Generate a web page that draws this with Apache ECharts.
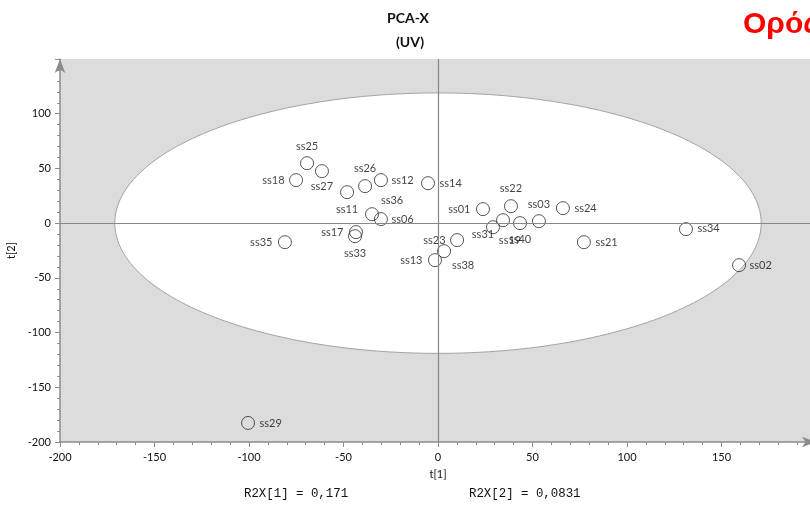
<!DOCTYPE html>
<html>
<head>
<meta charset="utf-8">
<title>PCA-X (UV)</title>
<script src="https://cdn.jsdelivr.net/npm/echarts/dist/echarts.min.js"></script>
<style>
  html, body { margin: 0; padding: 0; background: #ffffff; }
  #chart { width: 810px; height: 505px; }
</style>
</head>
<body>
<div id="chart"></div>
<script>
// Score plot of the first two principal components (t[1] vs t[2])
const sampleNames = ['ss25', 'ss27', 'ss18', 'ss11', 'ss26', 'ss12', 'ss14', 'ss36', 'ss06',
  'ss17', 'ss33', 'ss35', 'ss13', 'ss38', 'ss23', 'ss01', 'ss22', 'ss31', 'ss19', 'ss40',
  'ss03', 'ss24', 'ss21', 'ss34', 'ss02', 'ss29'];
const t1Scores = [-69.3, -61.4, -75.1, -48.1, -38.6, -30.2, -5.3, -34.9, -30.2,
  -43.4, -43.9, -81.0, -1.6, 3.2, 10.1, 23.8, 38.6, 29.1, 34.4, 43.4,
  53.4, 66.1, 77.2, 131.2, 159.3, -100.5];
const t2Scores = [54.8, 47.5, 39.3, 28.3, 33.8, 39.3, 36.5, 8.2, 3.7,
  -8.2, -11.9, -17.4, -33.8, -25.6, -15.5, 12.8, 15.5, -3.7, 2.7, 0.0,
  1.8, 13.7, -17.4, -5.5, -38.4, -182.6];

// Hotelling's T2 (95%) ellipse semi-axes in score units
const ellipseCenter = [0, 0];
const ellipseAxes = [171, 119];

const titleLines = ['PCA-X', '(UV)'];
const corner = 'Ορός';
const r2xTexts = ['R2X[1] = 0,171', 'R2X[2] = 0,0831'];
const axisNames = ['t[1]', 't[2]'];

// where each sample's label sits around its marker: [position, distance, dx, dy]
const labelPlacement = {
  ss25: ['top', 5, 0, 0], ss27: ['bottom', 3, 0, 0], ss18: ['left', 5, 0, 0],
  ss11: ['bottom', 5, 0, 0], ss26: ['top', 6, 0, 0], ss12: ['right', 4, 0, 0],
  ss14: ['right', 5, 0, 0], ss36: ['top', 2, 20, 0], ss06: ['right', 4, 0, 0],
  ss17: ['left', 6, 0, 0], ss33: ['bottom', 5, 0, 0], ss35: ['left', 6, 0, 0],
  ss13: ['left', 6, 0, 0], ss38: ['bottom', 2, 19, 0], ss23: ['left', 5, 0, 0],
  ss01: ['left', 6, 0, 0], ss22: ['top', 6, 0, 0], ss31: ['bottom', 0, -10, -5],
  ss19: ['bottom', 8, 7, 0], ss40: ['bottom', 4, 0, 0], ss03: ['top', 5, 0, 0],
  ss24: ['right', 5, 0, 0], ss21: ['right', 5, 0, 0], ss34: ['right', 5, 0, -1],
  ss02: ['right', 4, 0, 0], ss29: ['right', 5, 0, 0]
};

const points = sampleNames.map((name, i) => ({
  name: name,
  value: [t1Scores[i], t2Scores[i]]
}));

const axisGray = '#8c8c8c';
const labelFont = { fontFamily: 'Lato', fontSize: 11, color: '#111' };

const chart = echarts.init(document.getElementById('chart'), null, { renderer: 'canvas' });

chart.setOption({
  animation: false,
  backgroundColor: '#ffffff',
  grid: {
    left: 60, right: -6, top: 59, bottom: 63,
    show: true, backgroundColor: '#dcdcdc', borderWidth: 0,
    containLabel: false, outerBoundsMode: 'none'
  },
  xAxis: {
    type: 'value', min: -200, max: 200, interval: 50,
    name: axisNames[0], nameLocation: 'middle', nameGap: 27,
    nameTextStyle: labelFont,
    axisLine: { show: true, onZero: false, symbol: ['none', 'arrow'], symbolSize: [8, 14],
      lineStyle: { color: axisGray, width: 1.5 } },
    axisTick: { show: true, inside: false, length: 5, lineStyle: { color: axisGray } },
    minorTick: { show: true, splitNumber: 5, length: 3, lineStyle: { color: axisGray } },
    axisLabel: Object.assign({ margin: 10, showMaxLabel: false }, labelFont),
    splitLine: { show: false }
  },
  yAxis: {
    type: 'value', min: -200, max: 150, interval: 50,
    name: axisNames[1], nameLocation: 'middle', nameGap: 38, nameRotate: 90,
    nameTextStyle: labelFont,
    axisLine: { show: true, onZero: false, symbol: ['none', 'arrow'], symbolSize: [8, 14],
      lineStyle: { color: axisGray, width: 1.5 } },
    axisTick: { show: true, inside: false, length: 5, lineStyle: { color: axisGray } },
    minorTick: { show: true, splitNumber: 5, length: 3, lineStyle: { color: axisGray } },
    axisLabel: Object.assign({ margin: 9, showMaxLabel: false }, labelFont),
    splitLine: { show: false }
  },
  series: [
    {
      type: 'custom',
      z: 1,
      silent: true,
      data: [ellipseCenter],
      renderItem: function (params, api) {
        const pts = [];
        const n = 240;
        for (let k = 0; k <= n; k++) {
          const a = (k / n) * Math.PI * 2;
          pts.push(api.coord([
            ellipseCenter[0] + ellipseAxes[0] * Math.cos(a),
            ellipseCenter[1] + ellipseAxes[1] * Math.sin(a)
          ]));
        }
        return {
          type: 'polygon',
          shape: { points: pts },
          style: { fill: '#ffffff', stroke: '#a3a3a3', lineWidth: 1 }
        };
      }
    },
    {
      type: 'scatter',
      z: 3,
      symbol: 'circle',
      symbolSize: 13,
      itemStyle: { color: 'rgba(0,0,0,0)', borderColor: '#2a2a2a', borderWidth: 1 },
      label: Object.assign({ show: true, formatter: '{b}' }, labelFont),
      labelLayout: function (params) {
        const p = labelPlacement[sampleNames[params.dataIndex]] || ['right', 5, 0, 0];
        const r = 6.5;
        const cx = params.rect.x + params.rect.width / 2;
        const cy = params.rect.y + params.rect.height / 2;
        const w = params.labelRect.width;
        const h = params.labelRect.height;
        let x, y;
        if (p[0] === 'top') { x = cx - w / 2; y = cy - r - p[1] - h; }
        else if (p[0] === 'bottom') { x = cx - w / 2; y = cy + r + p[1]; }
        else if (p[0] === 'left') { x = cx - r - p[1] - w; y = cy - h / 2; }
        else { x = cx + r + p[1]; y = cy - h / 2; }
        return { x: x + p[2], y: y + p[3], align: 'left', verticalAlign: 'top' };
      },
      emphasis: { disabled: true },
      data: points,
      markLine: {
        silent: true,
        symbol: ['none', 'none'],
        label: { show: false },
        lineStyle: { color: '#888888', width: 1.2, type: 'solid' },
        data: [{ xAxis: 0 }, { yAxis: 0 }]
      }
    }
  ],
  graphic: [
    { type: 'text', x: 408, y: 18, style: { text: titleLines[0], fontFamily: 'Lato', fontWeight: 'bold', fontSize: 14, fill: '#111', textAlign: 'center', textVerticalAlign: 'middle' } },
    { type: 'text', x: 410, y: 42, style: { text: titleLines[1], fontFamily: 'Lato', fontWeight: 'bold', fontSize: 14, fill: '#111', textAlign: 'center', textVerticalAlign: 'middle' } },
    { type: 'text', x: 743, y: 24.5, style: { text: corner, fontFamily: 'Liberation Sans', fontWeight: 'bold', fontSize: 30, fill: '#ff0000', textAlign: 'left', textVerticalAlign: 'middle' } },
    { type: 'text', x: 244, y: 494, style: { text: r2xTexts[0], fontFamily: 'Liberation Mono', fontSize: 12.4, fill: '#111', textAlign: 'left', textVerticalAlign: 'middle' } },
    { type: 'text', x: 469, y: 494, style: { text: r2xTexts[1], fontFamily: 'Liberation Mono', fontSize: 12.4, fill: '#111', textAlign: 'left', textVerticalAlign: 'middle' } }
  ]
});
</script>
</body>
</html>
